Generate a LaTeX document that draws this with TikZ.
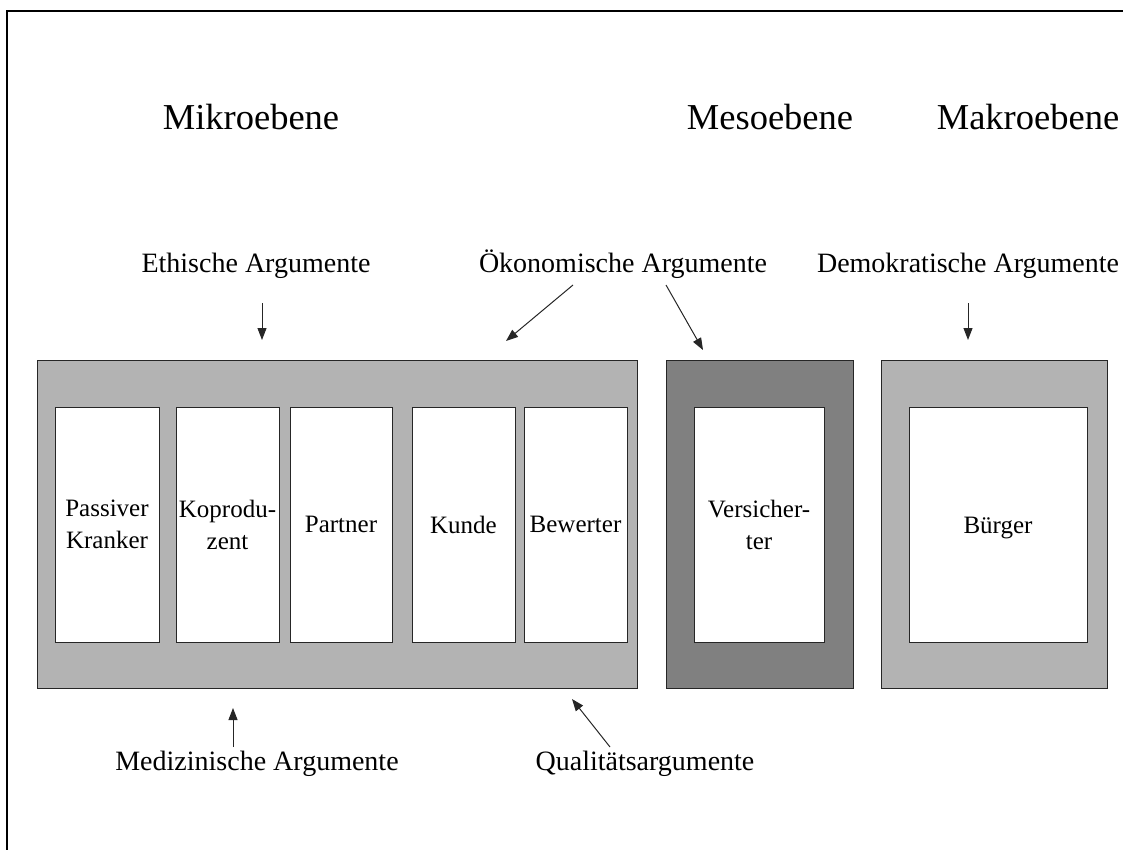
\documentclass[tikz,border=0pt]{standalone}
\usepackage{fontspec}
\setmainfont{Liberation Serif}
\usetikzlibrary{arrows.meta}
\definecolor{hellgrau}{RGB}{179,179,179}
\definecolor{dunkelgrau}{RGB}{128,128,128}
\begin{document}
\begin{tikzpicture}[x=1pt,y=-1pt,
  ebene/.style={font=\fontsize{36.5}{40}\selectfont,anchor=base},
  argument/.style={font=\fontsize{28}{32}\selectfont,anchor=base},
  rahmen/.style={draw=black!85,line width=1pt,inner sep=0pt},
  rolle/.style={rahmen,fill=white,minimum width=#1,minimum height=235,
    align=center,font=\fontsize{25}{32}\selectfont},
  pfeil/.style={draw=black!85,line width=1pt,-{Triangle[length=12pt,width=9pt]}}]
\useasboundingbox (0,0) rectangle (1123,850);
\draw[line width=2pt] (7,850) -- (7,11) -- (1123,11);

% Ebenen
\node[ebene] (mikrotxt) at (251,130) {Mikroebene};
\node[ebene] (mesotxt) at (770,130) {Mesoebene};
\node[ebene] (makrotxt) at (1028,130) {Makroebene};

% Argumente
\node[argument] (ethik) at (256,272) {Ethische Argumente};
\node[argument] (oeko) at (623,272) {Ökonomische Argumente};
\node[argument] (demo) at (968,272) {Demokratische Argumente};
\node[argument] (medi) at (257,770) {Medizinische Argumente};
\node[argument] (quali) at (645,770) {Qualitätsargumente};

% Kaesten
\node[rahmen,fill=hellgrau,minimum width=600,minimum height=328] (mikro) at (337,524) {};
\node[rahmen,fill=dunkelgrau,minimum width=187,minimum height=328] (meso) at (759.5,524) {};
\node[rahmen,fill=hellgrau,minimum width=226,minimum height=328] (makro) at (994,524) {};

\node[rolle=104] (kranker) at (107,524.5) {Passiver\\Kranker};
\node[rolle=103] (koprod) at (227.5,524.5) {Koprodu-\\zent};
\node[rolle=102] (partner) at (341,524.5) {Partner};
\node[rolle=103] (kunde) at (463.5,524.5) {Kunde};
\node[rolle=103] (bewerter) at (575.5,524.5) {Bewerter};
\node[rolle=130] (versich) at (759,524.5) {Versicher-\\ter};
\node[rolle=178] (buerger) at (998,524.5) {\raisebox{0pt}[0.68em][0pt]{Bürger}};

% Pfeile
\coordinate (ethikA) at (262,303);
\coordinate (ethikB) at (262,340);
\coordinate (oekoA) at (573,285);
\coordinate (oekoB) at (506,341);
\coordinate (oekoC) at (666,285);
\coordinate (oekoD) at (703,350);
\coordinate (demoA) at (968,303);
\coordinate (demoB) at (968,340);
\coordinate (mediA) at (233,747);
\coordinate (mediB) at (233,708);
\coordinate (qualiA) at (610,747);
\coordinate (qualiB) at (572,699);

\path[pfeil] (ethikA) -- (ethikB);
\path[pfeil] (oekoA) -- (oekoB);
\path[pfeil] (oekoC) -- (oekoD);
\path[pfeil] (demoA) -- (demoB);
\path[pfeil] (mediA) -- (mediB);
\path[pfeil] (qualiA) -- (qualiB);
\end{tikzpicture}
\end{document}
